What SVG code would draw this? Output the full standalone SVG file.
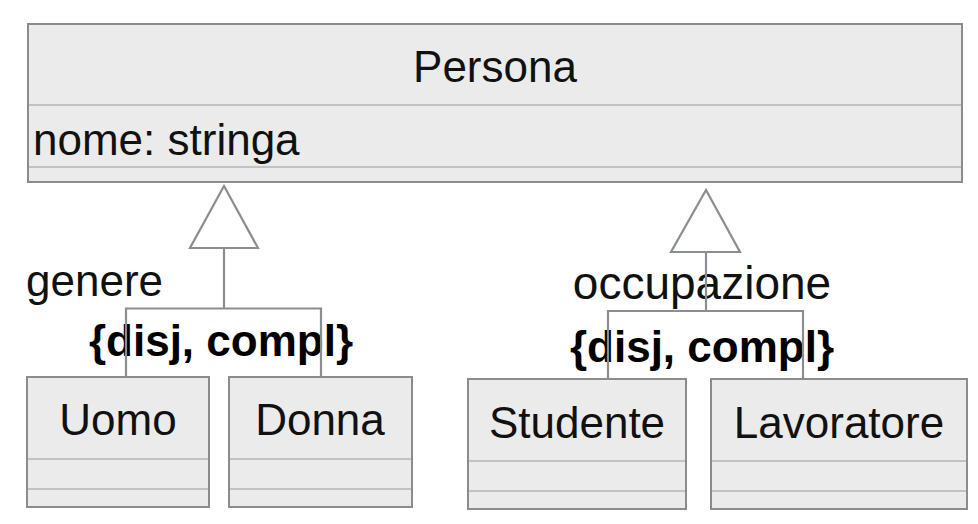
<svg xmlns="http://www.w3.org/2000/svg" width="978" height="524" viewBox="0 0 978 524">
<style>
.box{fill:#ebebeb;stroke:#8c8c8c;stroke-width:2}
.sep{stroke:#c2c2c2;stroke-width:2}
.t{font-family:"Liberation Sans",Arial,sans-serif;font-size:44px;fill:#111}
.b{font-family:"Liberation Sans",Arial,sans-serif;font-size:44px;font-weight:bold;fill:#000}
.c{fill:none;stroke:#8a8d92;stroke-width:2.2}
.tri{fill:#fff;stroke:#8a8d92;stroke-width:2.2}
</style>
<rect width="978" height="524" fill="#fff"/>
<g id="persona">
<rect class="box" x="28" y="24" width="934" height="158"/>
<line class="sep" x1="29" y1="105" x2="961" y2="105"/>
<line class="sep" x1="29" y1="167" x2="961" y2="167"/>
<text class="t" x="495" y="82" text-anchor="middle">Persona</text>
<text class="t" x="33" y="155">nome: stringa</text>
</g>
<g id="uomo">
<rect class="box" x="27" y="377" width="182" height="130"/>
<line class="sep" x1="28" y1="459" x2="208" y2="459"/>
<line class="sep" x1="28" y1="489" x2="208" y2="489"/>
<text class="t" x="118" y="435" text-anchor="middle">Uomo</text>
</g>
<g id="donna">
<rect class="box" x="229" y="377" width="183" height="130"/>
<line class="sep" x1="230" y1="459" x2="411" y2="459"/>
<line class="sep" x1="230" y1="489" x2="411" y2="489"/>
<text class="t" x="320" y="435" text-anchor="middle">Donna</text>
</g>
<g id="studente">
<rect class="box" x="468" y="379" width="218" height="130"/>
<line class="sep" x1="469" y1="461" x2="685" y2="461"/>
<line class="sep" x1="469" y1="491" x2="685" y2="491"/>
<text class="t" x="577" y="438" text-anchor="middle">Studente</text>
</g>
<g id="lavoratore">
<rect class="box" x="711" y="379" width="256" height="130"/>
<line class="sep" x1="712" y1="461" x2="966" y2="461"/>
<line class="sep" x1="712" y1="491" x2="966" y2="491"/>
<text class="t" x="839" y="438" text-anchor="middle">Lavoratore</text>
</g>
<g id="labels">
<text class="t" x="26" y="296">genere</text>
<text class="b" x="221" y="356" text-anchor="middle">{disj, compl}</text>
<text class="t" x="702" y="299" text-anchor="middle" style="font-size:46px">occupazione</text>
<text class="b" x="702" y="362" text-anchor="middle">{disj, compl}</text>
</g>
<g id="connectors">
<polygon class="tri" points="224,186 190,248 258,248"/>
<line class="c" x1="224" y1="248" x2="224" y2="308.5"/>
<polyline class="c" points="126,377 126,308.5 321,308.5 321,377"/>
<polygon class="tri" points="706,190 671,252 740,252"/>
<line class="c" x1="706" y1="252" x2="706" y2="311"/>
<polyline class="c" points="608,379 608,311 803,311 803,379"/>
</g>
</svg>
